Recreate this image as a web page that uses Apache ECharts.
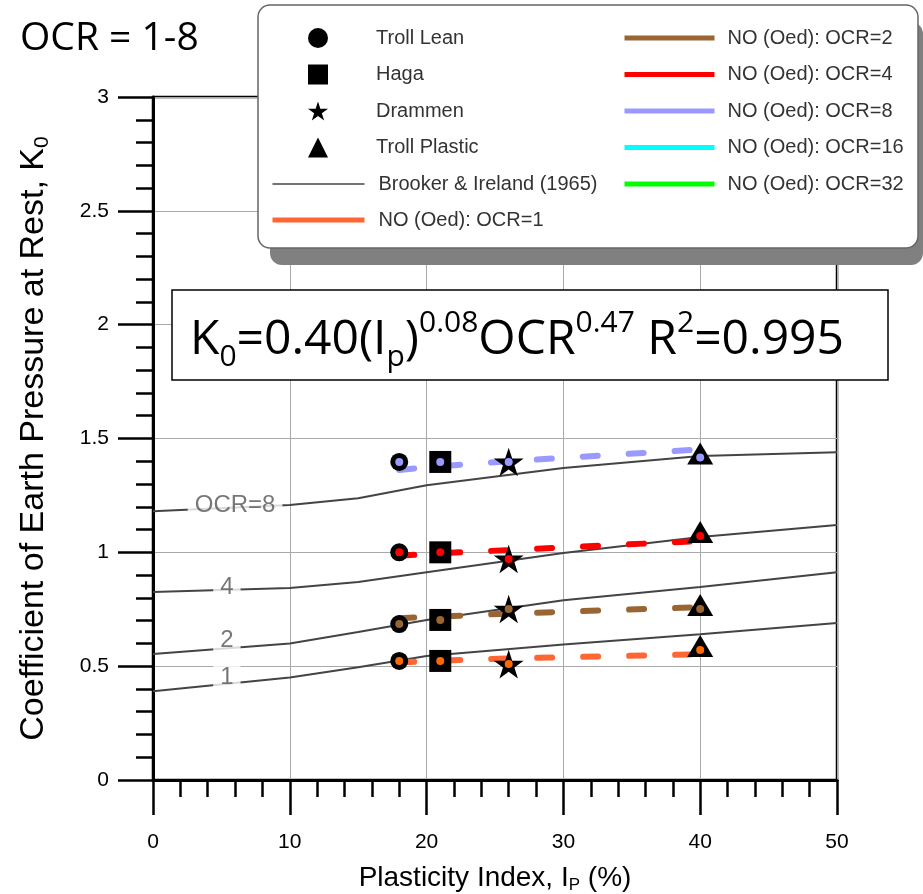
<!DOCTYPE html>
<html>
<head>
<meta charset="utf-8">
<script src="https://cdn.jsdelivr.net/npm/echarts@6/dist/echarts.min.js"></script>
<style>
    html, body { margin: 0; padding: 0; background: #fff; }
    #main { width: 923px; height: 894px; }
</style>
</head>
<body>
<div id="main"></div>
<script>
var arial = 'Liberation Sans, Arial, sans-serif',
    calibri = 'Open Sans, sans-serif';

// sites (markers)
var siteNames = ['Troll Lean', 'Haga', 'Drammen', 'Troll Plastic'],
    siteIp = [18, 21, 26, 40],
    siteK0Ocr1 = [0.523, 0.523, 0.509, 0.571],
    siteK0Ocr2 = [0.685, 0.703, 0.751, 0.751],
    siteK0Ocr4 = [1.0, 1.0, 0.971, 1.072],
    siteK0Ocr8 = [1.397, 1.397, 1.397, 1.416];

// NO (Oed) dashed trends
var oedNames = ['NO (Oed): OCR=1', 'NO (Oed): OCR=2', 'NO (Oed): OCR=4', 'NO (Oed): OCR=8', 'NO (Oed): OCR=16', 'NO (Oed): OCR=32'],
    oedColors = ['#ff6633', '#996633', '#ff0000', '#9999ff', '#00ffff', '#00ff00'],
    oedIp = [18, 21, 26, 40],
    oedOcr1 = [0.516, 0.524, 0.534, 0.552],
    oedOcr2 = [0.711, 0.718, 0.731, 0.759],
    oedOcr4 = [0.985, 0.996, 1.01, 1.05],
    oedOcr8 = [1.362, 1.378, 1.40, 1.452],
    oedOcr16 = [],
    oedOcr32 = [];

var dotColors = ['#ff6a00', '#996633', '#ff0000', '#9999ff'];

// Brooker & Ireland (1965)
var brookerIp = [0, 10, 15, 20, 30, 40, 50],
    brookerOcr1 = [0.39, 0.45, 0.495, 0.545, 0.595, 0.64, 0.69],
    brookerOcr2 = [0.553, 0.60, 0.65, 0.703, 0.79, 0.848, 0.913],
    brookerOcr4 = [0.826, 0.843, 0.87, 0.913, 0.997, 1.067, 1.12],
    brookerOcr8 = [1.18, 1.208, 1.238, 1.295, 1.37, 1.423, 1.44];

var curveLabels = ['OCR=8', '4', '2', '1'],
    curveLabelIp = [6.0, 5.4, 5.4, 5.4],
    curveLabelK0 = [1.208, 0.848, 0.615, 0.452];

var starPath = 'path://M50,0 L61.2,34.5 L97.6,34.5 L68.2,55.9 L79.4,90.5 L50,69.1 L20.6,90.5 L31.8,55.9 L2.4,34.5 L38.8,34.5 Z';
var siteSymbols = ['circle', 'rect', starPath, 'triangle'],
    siteSizes = [18, 22, 30, [26, 22]],
    siteOffsets = [[0, 0], [0, 0], [0, 0], [0, -4]];

function pairs(xs, ys) {
    return ys.map(function (y, i) { return [xs[i], y]; });
}

var series = [];
[brookerOcr1, brookerOcr2, brookerOcr4, brookerOcr8].forEach(function (ys) {
    series.push({
        name: 'Brooker & Ireland (1965)', type: 'line', data: pairs(brookerIp, ys),
        symbol: 'none', lineStyle: { color: '#444', width: 2 }, itemStyle: { color: '#444' },
        z: 2
    });
});
series.push({
    name: 'curve labels', type: 'scatter', symbolSize: 0.1,
    itemStyle: { color: 'rgba(0,0,0,0)' },
    data: curveLabels.map(function (t, i) { return [curveLabelIp[i], curveLabelK0[i], t]; }),
    label: {
        show: true, position: 'inside', formatter: function (p) { return p.value[2]; },
        fontFamily: arial, fontSize: 24, color: '#555', backgroundColor: '#fff', padding: [0, 7]
    },
    z: 3
});
[oedOcr1, oedOcr2, oedOcr4, oedOcr8, oedOcr16, oedOcr32].forEach(function (ys, i) {
    series.push({
        name: oedNames[i], type: 'line', data: pairs(oedIp, ys), symbol: 'none',
        lineStyle: { color: oedColors[i], width: 6, type: [15, 31], cap: 'round' },
        itemStyle: { color: oedColors[i] },
        z: 4
    });
});
siteNames.forEach(function (name, i) {
    series.push({
        name: name, type: 'scatter', symbol: siteSymbols[i], symbolSize: siteSizes[i],
        symbolOffset: siteOffsets[i], symbolKeepAspect: true,
        itemStyle: { color: '#000', opacity: 1 },
        data: [siteK0Ocr1[i], siteK0Ocr2[i], siteK0Ocr4[i], siteK0Ocr8[i]].map(function (y) { return [siteIp[i], y]; }),
        z: 5
    });
});
[siteK0Ocr1, siteK0Ocr2, siteK0Ocr4, siteK0Ocr8].forEach(function (ys, i) {
    series.push({
        name: 'dots ' + i, type: 'scatter', symbol: 'circle', symbolSize: 8,
        itemStyle: { color: dotColors[i], opacity: 1 }, data: pairs(siteIp, ys), z: 6
    });
});

var legendText = { fontFamily: arial, fontSize: 20, color: '#333' };

var myChart = echarts.init(document.getElementById('main'));
myChart.setOption({
    animation: false,
    grid: {
        left: 153, right: 86, top: 97, bottom: 114, containLabel: false, outerBoundsMode: 'none',
        show: true, borderColor: '#000', borderWidth: 2.5
    },
    xAxis: {
        type: 'value', min: 0, max: 50, interval: 10,
        name: '{n|Plasticity Index, I}{s|P}{n| (%)}', nameLocation: 'middle', nameGap: 82,
        nameTextStyle: { rich: {
            n: { fontFamily: arial, fontSize: 28, color: '#000', lineHeight: 32 },
            s: { fontFamily: arial, fontSize: 17, color: '#000', lineHeight: 24, verticalAlign: 'bottom' }
        } },
        axisLine: { lineStyle: { color: '#000', width: 3 } },
        axisTick: { length: 35, lineStyle: { color: '#000', width: 2.5 } },
        minorTick: { show: true, splitNumber: 5, length: 17, lineStyle: { color: '#000', width: 2.5 } },
        splitLine: { lineStyle: { color: '#aaa', width: 1 } },
        axisLabel: { margin: 52, fontFamily: arial, fontSize: 21, color: '#000' }
    },
    yAxis: {
        type: 'value', min: 0, max: 3, interval: 0.5,
        name: '{n|Coefficient of Earth Pressure at Rest, K}{s|0}', nameLocation: 'middle', nameGap: 100, nameRotate: 90,
        nameTextStyle: { rich: {
            n: { fontFamily: arial, fontSize: 34, color: '#000', lineHeight: 38 },
            s: { fontFamily: arial, fontSize: 21, color: '#000', lineHeight: 26, verticalAlign: 'bottom' }
        } },
        axisLine: { lineStyle: { color: '#000', width: 3 } },
        axisTick: { length: 35, lineStyle: { color: '#000', width: 2.5 } },
        minorTick: { show: true, splitNumber: 5, length: 17, lineStyle: { color: '#000', width: 2.5 } },
        splitLine: { lineStyle: { color: '#aaa', width: 1 } },
        axisLabel: { margin: 44, fontFamily: arial, fontSize: 21, color: '#000' }
    },
    legend: [
        {
            data: siteNames, orient: 'vertical', left: 308, top: 28, padding: 0,
            itemWidth: 20, itemHeight: 20, itemGap: 16.5, selectedMode: false, z: 20,
            textStyle: Object.assign({ padding: [0, 0, 0, 43] }, legendText)
        },
        {
            data: [
                { name: 'Brooker & Ireland (1965)', lineStyle: { width: 1.5 } },
                { name: oedNames[0], lineStyle: { width: 5 } }
            ],
            orient: 'vertical', left: 270, top: 174, padding: 0,
            itemWidth: 92, itemHeight: 20, itemGap: 16, selectedMode: false, z: 20,
            lineStyle: { type: 'solid', cap: 'butt' }, itemStyle: { opacity: 0 },
            textStyle: Object.assign({ padding: [0, 0, 0, 9] }, legendText)
        },
        {
            data: oedNames.slice(1), orient: 'vertical', left: 622, top: 28, padding: 0,
            itemWidth: 90, itemHeight: 20, itemGap: 16.5, selectedMode: false, z: 20,
            lineStyle: { type: 'solid', cap: 'butt', width: 5 }, itemStyle: { opacity: 0 },
            textStyle: Object.assign({ padding: [0, 0, 0, 8] }, legendText)
        }
    ],
    graphic: [
        {
            type: 'rect', z: 10,
            shape: { x: 270, y: 22, width: 653, height: 243, r: 12 },
            style: { fill: '#808080' }
        },
        {
            type: 'rect', z: 10,
            shape: { x: 258, y: 5, width: 660, height: 243, r: 12 },
            style: { fill: '#fff', stroke: '#666', lineWidth: 1.5 }
        },
        {
            type: 'rect', z: 10,
            shape: { x: 172, y: 290, width: 716, height: 90 },
            style: { fill: '#fff', stroke: '#000', lineWidth: 1.5 }
        },
        {
            type: 'text', z: 11, left: 190, top: 308,
            style: {
                text: '{m|K}{sb|0}{m|=0.40(I}{sb|p}{m|)}{sp|0.08}{m|OCR}{sp|0.47}{m| R}{sp|2}{m|=0.995}',
                rich: {
                    m: { fontFamily: calibri, fontSize: 48, lineHeight: 64, fill: '#000' },
                    sb: { fontFamily: calibri, fontSize: 30, lineHeight: 22, verticalAlign: 'bottom', fill: '#000' },
                    sp: { fontFamily: calibri, fontSize: 30, lineHeight: 32, verticalAlign: 'top', fill: '#000' }
                }
            }
        },
        {
            type: 'text', z: 11, left: 20, top: 17,
            style: { text: 'OCR = 1-8', fontFamily: calibri, fontSize: 39, lineHeight: 44, fill: '#000' }
        }
    ],
    series: series
});
</script>
</body>
</html>
